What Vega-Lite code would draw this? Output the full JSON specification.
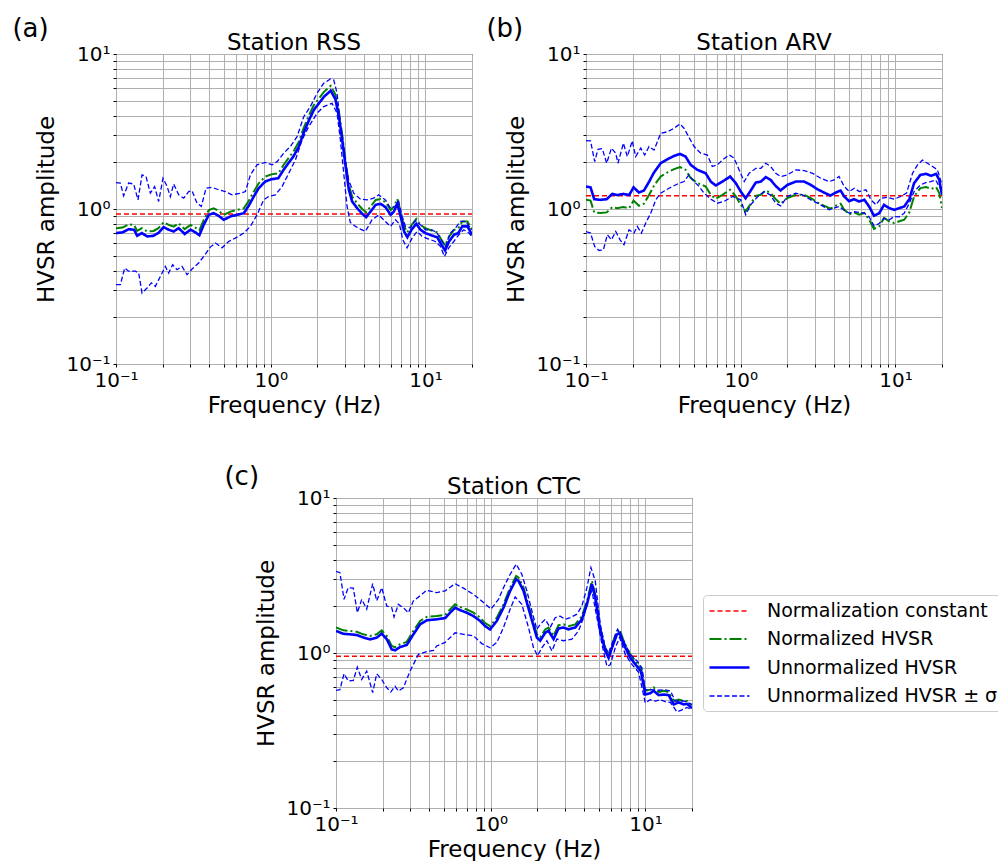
{
"$schema": "https://vega.github.io/schema/vega-lite/v6.json",
"padding": {"left": 12, "top": 15, "right": 0, "bottom": 0},
"config": {
  "font": "DejaVu Sans",
  "view": {"stroke": "#000000", "strokeWidth": 1},
  "axis": {"labelFont": "DejaVu Sans", "labelFontSize": 20, "labelColor": "#000000", "titleFont": "DejaVu Sans", "titleFontSize": 23, "titleFontWeight": "normal", "titleColor": "#000000", "gridColor": "#b0b0b0", "gridWidth": 1, "gridOpacity": 1, "domain": false, "tickColor": "#000000", "tickSize": 3, "labelOverlap": false, "labelFlush": false, "labelBound": false},
  "axisX": {"labelPadding": 3, "titlePadding": 4},
  "axisY": {"labelPadding": 3, "titlePadding": 7},
  "title": {"font": "DejaVu Sans", "fontSize": 23, "fontWeight": "normal", "color": "#000000", "offset": -11},
  "legend": {"orient": "none", "legendX": 367, "legendY": 97, "title": null, "symbolType": "M-1,0H3", "symbolSize": 400, "labelFontSize": 19, "labelFont": "DejaVu Sans", "labelColor": "#000000", "labelOffset": 36, "labelLimit": 400, "fillColor": "#ffffff", "strokeColor": "#cccccc", "cornerRadius": 4, "padding": 5, "rowPadding": 7},
  "line": {"clip": true}
},
"datasets": {
"A": [
{"series":"C","curve":"C","f":0.1,"v":0.93},{"series":"C","curve":"C","f":20,"v":0.93},
{"series":"N","curve":"N","f":0.1,"v":0.752},{"series":"N","curve":"N","f":0.11,"v":0.759},{"series":"N","curve":"N","f":0.121,"v":0.797},{"series":"N","curve":"N","f":0.131,"v":0.789},{"series":"N","curve":"N","f":0.137,"v":0.722},{"series":"N","curve":"N","f":0.147,"v":0.753},{"series":"N","curve":"N","f":0.159,"v":0.715},{"series":"N","curve":"N","f":0.175,"v":0.722},{"series":"N","curve":"N","f":0.188,"v":0.753},{"series":"N","curve":"N","f":0.203,"v":0.821},{"series":"N","curve":"N","f":0.219,"v":0.79},{"series":"N","curve":"N","f":0.236,"v":0.77},{"series":"N","curve":"N","f":0.254,"v":0.809},{"series":"N","curve":"N","f":0.278,"v":0.742},{"series":"N","curve":"N","f":0.303,"v":0.79},{"series":"N","curve":"N","f":0.326,"v":0.759},{"series":"N","curve":"N","f":0.346,"v":0.729},{"series":"N","curve":"N","f":0.369,"v":0.85},{"series":"N","curve":"N","f":0.398,"v":0.986},{"series":"N","curve":"N","f":0.428,"v":1.01},{"series":"N","curve":"N","f":0.461,"v":0.972},{"series":"N","curve":"N","f":0.497,"v":0.916},{"series":"N","curve":"N","f":0.549,"v":0.962},{"series":"N","curve":"N","f":0.605,"v":0.986},{"series":"N","curve":"N","f":0.67,"v":1.01},{"series":"N","curve":"N","f":0.72,"v":1.127},{"series":"N","curve":"N","f":0.777,"v":1.294},{"series":"N","curve":"N","f":0.836,"v":1.464},{"series":"N","curve":"N","f":0.922,"v":1.618},{"series":"N","curve":"N","f":1.01,"v":1.673},{"series":"N","curve":"N","f":1.12,"v":1.699},{"series":"N","curve":"N","f":1.21,"v":1.922},{"series":"N","curve":"N","f":1.3,"v":2.122},{"series":"N","curve":"N","f":1.4,"v":2.341},{"series":"N","curve":"N","f":1.52,"v":2.72},{"series":"N","curve":"N","f":1.63,"v":3.311},{"series":"N","curve":"N","f":1.77,"v":4.037},{"series":"N","curve":"N","f":1.9,"v":4.682},{"series":"N","curve":"N","f":2.05,"v":5.171},{"series":"N","curve":"N","f":2.21,"v":5.7},{"series":"N","curve":"N","f":2.44,"v":6.24},{"series":"N","curve":"N","f":2.62,"v":5.48},{"series":"N","curve":"N","f":2.76,"v":4.236},{"series":"N","curve":"N","f":2.9,"v":2.999},{"series":"N","curve":"N","f":3.05,"v":2.021},{"series":"N","curve":"N","f":3.2,"v":1.429},{"series":"N","curve":"N","f":3.36,"v":1.202},{"series":"N","curve":"N","f":3.62,"v":1.088},{"series":"N","curve":"N","f":3.9,"v":1.001},{"series":"N","curve":"N","f":4.14,"v":0.952},{"series":"N","curve":"N","f":4.42,"v":1.035},{"series":"N","curve":"N","f":4.77,"v":1.144},{"series":"N","curve":"N","f":5.13,"v":1.161},{"series":"N","curve":"N","f":5.52,"v":1.105},{"series":"N","curve":"N","f":5.96,"v":0.986},{"series":"N","curve":"N","f":6.26,"v":1.035},{"series":"N","curve":"N","f":6.58,"v":1.161},{"series":"N","curve":"N","f":6.92,"v":0.962},{"series":"N","curve":"N","f":7.28,"v":0.77},{"series":"N","curve":"N","f":7.64,"v":0.707},{"series":"N","curve":"N","f":8.13,"v":0.789},{"series":"N","curve":"N","f":8.73,"v":0.863},{"series":"N","curve":"N","f":9.3,"v":0.789},{"series":"N","curve":"N","f":10,"v":0.751},{"series":"N","curve":"N","f":11.1,"v":0.722},{"series":"N","curve":"N","f":11.9,"v":0.707},{"series":"N","curve":"N","f":12.7,"v":0.632},{"series":"N","curve":"N","f":13.4,"v":0.581},{"series":"N","curve":"N","f":14.2,"v":0.663},{"series":"N","curve":"N","f":15.3,"v":0.733},{"series":"N","curve":"N","f":16.3,"v":0.751},{"series":"N","curve":"N","f":17.3,"v":0.83},{"series":"N","curve":"N","f":18.7,"v":0.83},{"series":"N","curve":"N","f":20,"v":0.733},
{"series":"U","curve":"U","f":0.1,"v":0.70},{"series":"U","curve":"U","f":0.11,"v":0.706},{"series":"U","curve":"U","f":0.121,"v":0.741},{"series":"U","curve":"U","f":0.131,"v":0.734},{"series":"U","curve":"U","f":0.137,"v":0.672},{"series":"U","curve":"U","f":0.147,"v":0.70},{"series":"U","curve":"U","f":0.159,"v":0.665},{"series":"U","curve":"U","f":0.175,"v":0.672},{"series":"U","curve":"U","f":0.188,"v":0.70},{"series":"U","curve":"U","f":0.203,"v":0.764},{"series":"U","curve":"U","f":0.219,"v":0.735},{"series":"U","curve":"U","f":0.236,"v":0.716},{"series":"U","curve":"U","f":0.254,"v":0.753},{"series":"U","curve":"U","f":0.278,"v":0.69},{"series":"U","curve":"U","f":0.303,"v":0.735},{"series":"U","curve":"U","f":0.326,"v":0.706},{"series":"U","curve":"U","f":0.346,"v":0.678},{"series":"U","curve":"U","f":0.369,"v":0.791},{"series":"U","curve":"U","f":0.398,"v":0.917},{"series":"U","curve":"U","f":0.428,"v":0.94},{"series":"U","curve":"U","f":0.461,"v":0.904},{"series":"U","curve":"U","f":0.497,"v":0.852},{"series":"U","curve":"U","f":0.549,"v":0.895},{"series":"U","curve":"U","f":0.605,"v":0.917},{"series":"U","curve":"U","f":0.67,"v":0.94},{"series":"U","curve":"U","f":0.72,"v":1.048},{"series":"U","curve":"U","f":0.777,"v":1.204},{"series":"U","curve":"U","f":0.836,"v":1.362},{"series":"U","curve":"U","f":0.922,"v":1.505},{"series":"U","curve":"U","f":1.01,"v":1.556},{"series":"U","curve":"U","f":1.12,"v":1.58},{"series":"U","curve":"U","f":1.21,"v":1.788},{"series":"U","curve":"U","f":1.3,"v":1.974},{"series":"U","curve":"U","f":1.4,"v":2.178},{"series":"U","curve":"U","f":1.52,"v":2.53},{"series":"U","curve":"U","f":1.63,"v":3.08},{"series":"U","curve":"U","f":1.77,"v":3.755},{"series":"U","curve":"U","f":1.9,"v":4.355},{"series":"U","curve":"U","f":2.05,"v":4.81},{"series":"U","curve":"U","f":2.21,"v":5.3},{"series":"U","curve":"U","f":2.44,"v":5.8},{"series":"U","curve":"U","f":2.62,"v":5.1},{"series":"U","curve":"U","f":2.76,"v":3.94},{"series":"U","curve":"U","f":2.9,"v":2.79},{"series":"U","curve":"U","f":3.05,"v":1.88},{"series":"U","curve":"U","f":3.2,"v":1.329},{"series":"U","curve":"U","f":3.36,"v":1.118},{"series":"U","curve":"U","f":3.62,"v":1.012},{"series":"U","curve":"U","f":3.9,"v":0.931},{"series":"U","curve":"U","f":4.14,"v":0.886},{"series":"U","curve":"U","f":4.42,"v":0.963},{"series":"U","curve":"U","f":4.77,"v":1.064},{"series":"U","curve":"U","f":5.13,"v":1.08},{"series":"U","curve":"U","f":5.52,"v":1.028},{"series":"U","curve":"U","f":5.96,"v":0.917},{"series":"U","curve":"U","f":6.26,"v":0.963},{"series":"U","curve":"U","f":6.58,"v":1.08},{"series":"U","curve":"U","f":6.92,"v":0.895},{"series":"U","curve":"U","f":7.28,"v":0.716},{"series":"U","curve":"U","f":7.64,"v":0.658},{"series":"U","curve":"U","f":8.13,"v":0.734},{"series":"U","curve":"U","f":8.73,"v":0.803},{"series":"U","curve":"U","f":9.3,"v":0.734},{"series":"U","curve":"U","f":10,"v":0.699},{"series":"U","curve":"U","f":11.1,"v":0.672},{"series":"U","curve":"U","f":11.9,"v":0.658},{"series":"U","curve":"U","f":12.7,"v":0.588},{"series":"U","curve":"U","f":13.4,"v":0.54},{"series":"U","curve":"U","f":14.2,"v":0.617},{"series":"U","curve":"U","f":15.3,"v":0.682},{"series":"U","curve":"U","f":16.3,"v":0.699},{"series":"U","curve":"U","f":17.3,"v":0.772},{"series":"U","curve":"U","f":18.7,"v":0.772},{"series":"U","curve":"U","f":20,"v":0.682},
{"series":"S","curve":"up","f":0.1,"v":1.48},{"series":"S","curve":"up","f":0.1067,"v":1.47},{"series":"S","curve":"up","f":0.112,"v":1.216},{"series":"S","curve":"up","f":0.1207,"v":1.47},{"series":"S","curve":"up","f":0.13,"v":1.45},{"series":"S","curve":"up","f":0.1388,"v":1.146},{"series":"S","curve":"up","f":0.1473,"v":1.66},{"series":"S","curve":"up","f":0.1563,"v":1.62},{"series":"S","curve":"up","f":0.1667,"v":1.265},{"series":"S","curve":"up","f":0.1778,"v":1.395},{"series":"S","curve":"up","f":0.1887,"v":1.118},{"series":"S","curve":"up","f":0.2013,"v":1.58},{"series":"S","curve":"up","f":0.2137,"v":1.4},{"series":"S","curve":"up","f":0.2245,"v":1.2},{"series":"S","curve":"up","f":0.236,"v":1.45},{"series":"S","curve":"up","f":0.2542,"v":1.234},{"series":"S","curve":"up","f":0.2738,"v":1.175},{"series":"S","curve":"up","f":0.295,"v":1.296},{"series":"S","curve":"up","f":0.31,"v":1.31},{"series":"S","curve":"up","f":0.334,"v":1.09},{"series":"S","curve":"up","f":0.356,"v":1.038},{"series":"S","curve":"up","f":0.382,"v":1.363},{"series":"S","curve":"up","f":0.4175,"v":1.38},{"series":"S","curve":"up","f":0.461,"v":1.33},{"series":"S","curve":"up","f":0.509,"v":1.296},{"series":"S","curve":"up","f":0.562,"v":1.234},{"series":"S","curve":"up","f":0.637,"v":1.265},{"series":"S","curve":"up","f":0.686,"v":1.296},{"series":"S","curve":"up","f":0.739,"v":1.66},{"series":"S","curve":"up","f":0.816,"v":1.926},{"series":"S","curve":"up","f":0.924,"v":1.999},{"series":"S","curve":"up","f":1.02,"v":1.926},{"series":"S","curve":"up","f":1.099,"v":2.02},{"series":"S","curve":"up","f":1.213,"v":2.29},{"series":"S","curve":"up","f":1.34,"v":2.53},{"series":"S","curve":"up","f":1.48,"v":2.93},{"series":"S","curve":"up","f":1.635,"v":3.94},{"series":"S","curve":"up","f":1.805,"v":4.58},{"series":"S","curve":"up","f":1.993,"v":5.58},{"series":"S","curve":"up","f":2.2,"v":6.47},{"series":"S","curve":"up","f":2.43,"v":6.9},{"series":"S","curve":"up","f":2.555,"v":6.8},{"series":"S","curve":"up","f":2.685,"v":5.58},{"series":"S","curve":"up","f":2.82,"v":3.4},{"series":"S","curve":"up","f":2.965,"v":2.29},{"series":"S","curve":"up","f":3.19,"v":1.54},{"series":"S","curve":"up","f":3.44,"v":1.265},{"series":"S","curve":"up","f":3.8,"v":1.157},{"series":"S","curve":"up","f":4.2,"v":1.146},{"series":"S","curve":"up","f":4.63,"v":1.175},{"series":"S","curve":"up","f":4.99,"v":1.234},{"series":"S","curve":"up","f":5.51,"v":1.146},{"series":"S","curve":"up","f":5.94,"v":1.013},{"series":"S","curve":"up","f":6.34,"v":1.038},{"series":"S","curve":"up","f":6.72,"v":1.118},{"series":"S","curve":"up","f":7.07,"v":0.895},{"series":"S","curve":"up","f":7.43,"v":0.772},{"series":"S","curve":"up","f":8.0,"v":0.753},{"series":"S","curve":"up","f":8.62,"v":0.843},{"series":"S","curve":"up","f":9.28,"v":0.79},{"series":"S","curve":"up","f":10,"v":0.734},{"series":"S","curve":"up","f":11.04,"v":0.734},{"series":"S","curve":"up","f":11.9,"v":0.699},{"series":"S","curve":"up","f":12.82,"v":0.617},{"series":"S","curve":"up","f":13.47,"v":0.574},{"series":"S","curve":"up","f":14.5,"v":0.699},{"series":"S","curve":"up","f":15.63,"v":0.753},{"series":"S","curve":"up","f":16.84,"v":0.831},{"series":"S","curve":"up","f":18.14,"v":0.831},{"series":"S","curve":"up","f":20,"v":0.734},
{"series":"S","curve":"lo","f":0.1,"v":0.325},{"series":"S","curve":"lo","f":0.1067,"v":0.325},{"series":"S","curve":"lo","f":0.1138,"v":0.4155},{"series":"S","curve":"lo","f":0.1207,"v":0.397},{"series":"S","curve":"lo","f":0.1334,"v":0.397},{"series":"S","curve":"lo","f":0.1402,"v":0.386},{"series":"S","curve":"lo","f":0.1473,"v":0.287},{"series":"S","curve":"lo","f":0.1587,"v":0.309},{"series":"S","curve":"lo","f":0.1692,"v":0.334},{"series":"S","curve":"lo","f":0.1796,"v":0.317},{"series":"S","curve":"lo","f":0.1934,"v":0.367},{"series":"S","curve":"lo","f":0.2084,"v":0.426},{"series":"S","curve":"lo","f":0.219,"v":0.386},{"series":"S","curve":"lo","f":0.2325,"v":0.437},{"series":"S","curve":"lo","f":0.248,"v":0.406},{"series":"S","curve":"lo","f":0.2672,"v":0.426},{"series":"S","curve":"lo","f":0.2878,"v":0.377},{"series":"S","curve":"lo","f":0.31,"v":0.41},{"series":"S","curve":"lo","f":0.342,"v":0.448},{"series":"S","curve":"lo","f":0.369,"v":0.494},{"series":"S","curve":"lo","f":0.407,"v":0.568},{"series":"S","curve":"lo","f":0.439,"v":0.603},{"series":"S","curve":"lo","f":0.4845,"v":0.562},{"series":"S","curve":"lo","f":0.535,"v":0.617},{"series":"S","curve":"lo","f":0.606,"v":0.658},{"series":"S","curve":"lo","f":0.669,"v":0.699},{"series":"S","curve":"lo","f":0.739,"v":0.772},{"series":"S","curve":"lo","f":0.816,"v":0.917},{"series":"S","curve":"lo","f":0.901,"v":1.146},{"series":"S","curve":"lo","f":0.971,"v":1.204},{"series":"S","curve":"lo","f":1.072,"v":1.234},{"series":"S","curve":"lo","f":1.184,"v":1.395},{"series":"S","curve":"lo","f":1.307,"v":1.70},{"series":"S","curve":"lo","f":1.444,"v":2.07},{"series":"S","curve":"lo","f":1.595,"v":2.79},{"series":"S","curve":"lo","f":1.761,"v":3.4},{"series":"S","curve":"lo","f":1.993,"v":4.146},{"series":"S","curve":"lo","f":2.2,"v":4.58},{"series":"S","curve":"lo","f":2.49,"v":4.81},{"series":"S","curve":"lo","f":2.685,"v":4.146},{"series":"S","curve":"lo","f":2.82,"v":2.79},{"series":"S","curve":"lo","f":2.965,"v":1.70},{"series":"S","curve":"lo","f":3.115,"v":1.038},{"series":"S","curve":"lo","f":3.27,"v":0.819},{"series":"S","curve":"lo","f":3.53,"v":0.772},{"series":"S","curve":"lo","f":3.8,"v":0.742},{"series":"S","curve":"lo","f":4.09,"v":0.716},{"series":"S","curve":"lo","f":4.52,"v":0.852},{"series":"S","curve":"lo","f":4.99,"v":0.917},{"series":"S","curve":"lo","f":5.51,"v":0.831},{"series":"S","curve":"lo","f":5.94,"v":0.772},{"series":"S","curve":"lo","f":6.4,"v":0.852},{"series":"S","curve":"lo","f":6.79,"v":0.80},{"series":"S","curve":"lo","f":7.14,"v":0.633},{"series":"S","curve":"lo","f":7.61,"v":0.562},{"series":"S","curve":"lo","f":8.2,"v":0.649},{"series":"S","curve":"lo","f":8.83,"v":0.716},{"series":"S","curve":"lo","f":9.51,"v":0.666},{"series":"S","curve":"lo","f":10.5,"v":0.64},{"series":"S","curve":"lo","f":11.6,"v":0.617},{"series":"S","curve":"lo","f":12.5,"v":0.574},{"series":"S","curve":"lo","f":13.27,"v":0.494},{"series":"S","curve":"lo","f":14.16,"v":0.562},{"series":"S","curve":"lo","f":15.25,"v":0.617},{"series":"S","curve":"lo","f":16.43,"v":0.682},{"series":"S","curve":"lo","f":17.69,"v":0.734},{"series":"S","curve":"lo","f":19.06,"v":0.70},{"series":"S","curve":"lo","f":20,"v":0.666}
],
"B": [
{"series":"C","curve":"C","f":0.1,"v":1.216},{"series":"C","curve":"C","f":20,"v":1.216},
{"series":"N","curve":"N","f":0.1,"v":1.148},{"series":"N","curve":"N","f":0.107,"v":1.134},{"series":"N","curve":"N","f":0.113,"v":0.951},{"series":"N","curve":"N","f":0.124,"v":0.942},{"series":"N","curve":"N","f":0.136,"v":0.951},{"series":"N","curve":"N","f":0.148,"v":1.029},{"series":"N","curve":"N","f":0.159,"v":1.011},{"series":"N","curve":"N","f":0.174,"v":1.029},{"series":"N","curve":"N","f":0.19,"v":1.011},{"series":"N","curve":"N","f":0.203,"v":1.134},{"series":"N","curve":"N","f":0.22,"v":1.05},{"series":"N","curve":"N","f":0.237,"v":1.082},{"series":"N","curve":"N","f":0.256,"v":1.235},{"series":"N","curve":"N","f":0.275,"v":1.413},{"series":"N","curve":"N","f":0.304,"v":1.623},{"series":"N","curve":"N","f":0.336,"v":1.722},{"series":"N","curve":"N","f":0.371,"v":1.808},{"series":"N","curve":"N","f":0.405,"v":1.864},{"series":"N","curve":"N","f":0.44,"v":1.792},{"series":"N","curve":"N","f":0.475,"v":1.583},{"series":"N","curve":"N","f":0.525,"v":1.47},{"series":"N","curve":"N","f":0.594,"v":1.397},{"series":"N","curve":"N","f":0.64,"v":1.235},{"series":"N","curve":"N","f":0.69,"v":1.165},{"series":"N","curve":"N","f":0.762,"v":1.235},{"series":"N","curve":"N","f":0.855,"v":1.332},{"series":"N","curve":"N","f":0.93,"v":1.207},{"series":"N","curve":"N","f":1.0,"v":1.065},{"series":"N","curve":"N","f":1.075,"v":0.965},{"series":"N","curve":"N","f":1.15,"v":1.065},{"series":"N","curve":"N","f":1.25,"v":1.217},{"series":"N","curve":"N","f":1.35,"v":1.235},{"series":"N","curve":"N","f":1.45,"v":1.318},{"series":"N","curve":"N","f":1.56,"v":1.268},{"series":"N","curve":"N","f":1.68,"v":1.159},{"series":"N","curve":"N","f":1.81,"v":1.082},{"series":"N","curve":"N","f":2.0,"v":1.175},{"series":"N","curve":"N","f":2.27,"v":1.235},{"series":"N","curve":"N","f":2.57,"v":1.235},{"series":"N","curve":"N","f":2.84,"v":1.175},{"series":"N","curve":"N","f":3.13,"v":1.103},{"series":"N","curve":"N","f":3.45,"v":1.05},{"series":"N","curve":"N","f":3.8,"v":1.004},{"series":"N","curve":"N","f":4.12,"v":1.05},{"series":"N","curve":"N","f":4.42,"v":1.082},{"series":"N","curve":"N","f":4.67,"v":0.99},{"series":"N","curve":"N","f":5.02,"v":0.923},{"series":"N","curve":"N","f":5.4,"v":0.951},{"series":"N","curve":"N","f":5.82,"v":0.919},{"series":"N","curve":"N","f":6.3,"v":0.942},{"series":"N","curve":"N","f":6.76,"v":0.853},{"series":"N","curve":"N","f":7.27,"v":0.743},{"series":"N","curve":"N","f":7.86,"v":0.773},{"series":"N","curve":"N","f":8.44,"v":0.875},{"series":"N","curve":"N","f":9.12,"v":0.833},{"series":"N","curve":"N","f":9.83,"v":0.812},{"series":"N","curve":"N","f":10.6,"v":0.833},{"series":"N","curve":"N","f":11.4,"v":0.853},{"series":"N","curve":"N","f":12.3,"v":0.951},{"series":"N","curve":"N","f":13.2,"v":1.207},{"series":"N","curve":"N","f":14.5,"v":1.365},{"series":"N","curve":"N","f":15.8,"v":1.385},{"series":"N","curve":"N","f":17.0,"v":1.346},{"series":"N","curve":"N","f":18.3,"v":1.385},{"series":"N","curve":"N","f":19.2,"v":1.268},{"series":"N","curve":"N","f":20,"v":1.014},
{"series":"U","curve":"U","f":0.1,"v":1.397},{"series":"U","curve":"U","f":0.107,"v":1.38},{"series":"U","curve":"U","f":0.113,"v":1.157},{"series":"U","curve":"U","f":0.124,"v":1.146},{"series":"U","curve":"U","f":0.136,"v":1.157},{"series":"U","curve":"U","f":0.148,"v":1.252},{"series":"U","curve":"U","f":0.159,"v":1.23},{"series":"U","curve":"U","f":0.174,"v":1.252},{"series":"U","curve":"U","f":0.19,"v":1.23},{"series":"U","curve":"U","f":0.203,"v":1.38},{"series":"U","curve":"U","f":0.22,"v":1.277},{"series":"U","curve":"U","f":0.237,"v":1.316},{"series":"U","curve":"U","f":0.256,"v":1.503},{"series":"U","curve":"U","f":0.275,"v":1.719},{"series":"U","curve":"U","f":0.304,"v":1.974},{"series":"U","curve":"U","f":0.336,"v":2.095},{"series":"U","curve":"U","f":0.371,"v":2.2},{"series":"U","curve":"U","f":0.405,"v":2.268},{"series":"U","curve":"U","f":0.44,"v":2.18},{"series":"U","curve":"U","f":0.475,"v":1.926},{"series":"U","curve":"U","f":0.525,"v":1.788},{"series":"U","curve":"U","f":0.594,"v":1.7},{"series":"U","curve":"U","f":0.64,"v":1.503},{"series":"U","curve":"U","f":0.69,"v":1.417},{"series":"U","curve":"U","f":0.762,"v":1.503},{"series":"U","curve":"U","f":0.855,"v":1.62},{"series":"U","curve":"U","f":0.93,"v":1.468},{"series":"U","curve":"U","f":1.0,"v":1.296},{"series":"U","curve":"U","f":1.075,"v":1.174},{"series":"U","curve":"U","f":1.15,"v":1.296},{"series":"U","curve":"U","f":1.25,"v":1.48},{"series":"U","curve":"U","f":1.35,"v":1.503},{"series":"U","curve":"U","f":1.45,"v":1.604},{"series":"U","curve":"U","f":1.56,"v":1.542},{"series":"U","curve":"U","f":1.68,"v":1.41},{"series":"U","curve":"U","f":1.81,"v":1.316},{"series":"U","curve":"U","f":2.0,"v":1.43},{"series":"U","curve":"U","f":2.27,"v":1.503},{"series":"U","curve":"U","f":2.57,"v":1.503},{"series":"U","curve":"U","f":2.84,"v":1.43},{"series":"U","curve":"U","f":3.13,"v":1.342},{"series":"U","curve":"U","f":3.45,"v":1.277},{"series":"U","curve":"U","f":3.8,"v":1.222},{"series":"U","curve":"U","f":4.12,"v":1.277},{"series":"U","curve":"U","f":4.42,"v":1.316},{"series":"U","curve":"U","f":4.67,"v":1.204},{"series":"U","curve":"U","f":5.02,"v":1.123},{"series":"U","curve":"U","f":5.4,"v":1.157},{"series":"U","curve":"U","f":5.82,"v":1.118},{"series":"U","curve":"U","f":6.3,"v":1.146},{"series":"U","curve":"U","f":6.76,"v":1.038},{"series":"U","curve":"U","f":7.27,"v":0.904},{"series":"U","curve":"U","f":7.86,"v":0.94},{"series":"U","curve":"U","f":8.44,"v":1.064},{"series":"U","curve":"U","f":9.12,"v":1.013},{"series":"U","curve":"U","f":9.83,"v":0.988},{"series":"U","curve":"U","f":10.6,"v":1.013},{"series":"U","curve":"U","f":11.4,"v":1.038},{"series":"U","curve":"U","f":12.3,"v":1.157},{"series":"U","curve":"U","f":13.2,"v":1.468},{"series":"U","curve":"U","f":14.5,"v":1.66},{"series":"U","curve":"U","f":15.8,"v":1.685},{"series":"U","curve":"U","f":17.0,"v":1.637},{"series":"U","curve":"U","f":18.3,"v":1.685},{"series":"U","curve":"U","f":19.2,"v":1.542},{"series":"U","curve":"U","f":20,"v":1.234},
{"series":"S","curve":"up","f":0.1,"v":2.764},{"series":"S","curve":"up","f":0.107,"v":2.75},{"series":"S","curve":"up","f":0.1138,"v":2.023},{"series":"S","curve":"up","f":0.1196,"v":2.43},{"series":"S","curve":"up","f":0.1275,"v":2.45},{"series":"S","curve":"up","f":0.136,"v":1.974},{"series":"S","curve":"up","f":0.146,"v":2.47},{"series":"S","curve":"up","f":0.1556,"v":2.29},{"series":"S","curve":"up","f":0.161,"v":1.974},{"series":"S","curve":"up","f":0.1744,"v":2.657},{"series":"S","curve":"up","f":0.185,"v":2.18},{"series":"S","curve":"up","f":0.199,"v":2.75},{"series":"S","curve":"up","f":0.2095,"v":2.18},{"series":"S","curve":"up","f":0.2258,"v":2.47},{"series":"S","curve":"up","f":0.2396,"v":2.23},{"series":"S","curve":"up","f":0.2556,"v":2.53},{"series":"S","curve":"up","f":0.2754,"v":2.4},{"series":"S","curve":"up","f":0.3041,"v":3.08},{"series":"S","curve":"up","f":0.336,"v":3.15},{"series":"S","curve":"up","f":0.371,"v":3.32},{"series":"S","curve":"up","f":0.405,"v":3.54},{"series":"S","curve":"up","f":0.43,"v":3.32},{"series":"S","curve":"up","f":0.463,"v":2.9},{"series":"S","curve":"up","f":0.4996,"v":2.53},{"series":"S","curve":"up","f":0.5514,"v":2.29},{"series":"S","curve":"up","f":0.609,"v":2.23},{"series":"S","curve":"up","f":0.655,"v":1.88},{"series":"S","curve":"up","f":0.7074,"v":1.93},{"series":"S","curve":"up","f":0.762,"v":2.07},{"series":"S","curve":"up","f":0.842,"v":2.23},{"series":"S","curve":"up","f":0.906,"v":2.13},{"series":"S","curve":"up","f":0.977,"v":1.788},{"series":"S","curve":"up","f":1.053,"v":1.503},{"series":"S","curve":"up","f":1.134,"v":1.7},{"series":"S","curve":"up","f":1.252,"v":1.83},{"series":"S","curve":"up","f":1.35,"v":1.83},{"series":"S","curve":"up","f":1.45,"v":1.974},{"series":"S","curve":"up","f":1.564,"v":1.88},{"series":"S","curve":"up","f":1.685,"v":1.7},{"series":"S","curve":"up","f":1.815,"v":1.62},{"series":"S","curve":"up","f":2.0,"v":1.66},{"series":"S","curve":"up","f":2.27,"v":1.788},{"series":"S","curve":"up","f":2.57,"v":1.77},{"series":"S","curve":"up","f":2.91,"v":1.7},{"series":"S","curve":"up","f":3.29,"v":1.58},{"series":"S","curve":"up","f":3.73,"v":1.503},{"series":"S","curve":"up","f":4.01,"v":1.54},{"series":"S","curve":"up","f":4.32,"v":1.62},{"series":"S","curve":"up","f":4.67,"v":1.397},{"series":"S","curve":"up","f":5.03,"v":1.296},{"series":"S","curve":"up","f":5.42,"v":1.362},{"series":"S","curve":"up","f":5.84,"v":1.296},{"series":"S","curve":"up","f":6.45,"v":1.33},{"series":"S","curve":"up","f":6.95,"v":1.146},{"series":"S","curve":"up","f":7.49,"v":1.064},{"series":"S","curve":"up","f":8.07,"v":1.174},{"series":"S","curve":"up","f":8.9,"v":1.19},{"series":"S","curve":"up","f":9.83,"v":1.157},{"series":"S","curve":"up","f":10.8,"v":1.204},{"series":"S","curve":"up","f":11.8,"v":1.265},{"series":"S","curve":"up","f":12.9,"v":1.7},{"series":"S","curve":"up","f":13.9,"v":1.926},{"series":"S","curve":"up","f":14.95,"v":2.07},{"series":"S","curve":"up","f":16.1,"v":1.974},{"series":"S","curve":"up","f":17.4,"v":1.88},{"series":"S","curve":"up","f":18.7,"v":1.788},{"series":"S","curve":"up","f":20,"v":1.43},
{"series":"S","curve":"lo","f":0.1,"v":0.716},{"series":"S","curve":"lo","f":0.107,"v":0.699},{"series":"S","curve":"lo","f":0.1138,"v":0.573},{"series":"S","curve":"lo","f":0.1213,"v":0.54},{"series":"S","curve":"lo","f":0.1295,"v":0.545},{"series":"S","curve":"lo","f":0.1374,"v":0.682},{"series":"S","curve":"lo","f":0.146,"v":0.633},{"series":"S","curve":"lo","f":0.1556,"v":0.716},{"series":"S","curve":"lo","f":0.166,"v":0.633},{"series":"S","curve":"lo","f":0.176,"v":0.588},{"series":"S","curve":"lo","f":0.1897,"v":0.734},{"series":"S","curve":"lo","f":0.2044,"v":0.699},{"series":"S","curve":"lo","f":0.2146,"v":0.772},{"series":"S","curve":"lo","f":0.228,"v":0.699},{"series":"S","curve":"lo","f":0.243,"v":0.81},{"series":"S","curve":"lo","f":0.262,"v":0.94},{"series":"S","curve":"lo","f":0.2826,"v":1.146},{"series":"S","curve":"lo","f":0.304,"v":1.265},{"series":"S","curve":"lo","f":0.344,"v":1.362},{"series":"S","curve":"lo","f":0.39,"v":1.45},{"series":"S","curve":"lo","f":0.43,"v":1.503},{"series":"S","curve":"lo","f":0.463,"v":1.66},{"series":"S","curve":"lo","f":0.4996,"v":1.503},{"series":"S","curve":"lo","f":0.5385,"v":1.397},{"series":"S","curve":"lo","f":0.58,"v":1.265},{"series":"S","curve":"lo","f":0.64,"v":1.157},{"series":"S","curve":"lo","f":0.7074,"v":1.09},{"series":"S","curve":"lo","f":0.781,"v":1.12},{"series":"S","curve":"lo","f":0.885,"v":1.204},{"series":"S","curve":"lo","f":1.0,"v":1.146},{"series":"S","curve":"lo","f":1.077,"v":0.917},{"series":"S","curve":"lo","f":1.16,"v":1.064},{"series":"S","curve":"lo","f":1.29,"v":1.204},{"series":"S","curve":"lo","f":1.42,"v":1.296},{"series":"S","curve":"lo","f":1.55,"v":1.234},{"series":"S","curve":"lo","f":1.685,"v":1.09},{"series":"S","curve":"lo","f":1.815,"v":1.048},{"series":"S","curve":"lo","f":2.0,"v":1.204},{"series":"S","curve":"lo","f":2.27,"v":1.265},{"series":"S","curve":"lo","f":2.51,"v":1.234},{"series":"S","curve":"lo","f":2.84,"v":1.146},{"series":"S","curve":"lo","f":3.29,"v":1.064},{"series":"S","curve":"lo","f":3.73,"v":0.988},{"series":"S","curve":"lo","f":4.01,"v":1.013},{"series":"S","curve":"lo","f":4.32,"v":1.038},{"series":"S","curve":"lo","f":4.67,"v":0.978},{"series":"S","curve":"lo","f":5.03,"v":0.94},{"series":"S","curve":"lo","f":5.42,"v":0.96},{"series":"S","curve":"lo","f":5.84,"v":0.95},{"series":"S","curve":"lo","f":6.3,"v":0.94},{"series":"S","curve":"lo","f":6.78,"v":0.886},{"series":"S","curve":"lo","f":7.3,"v":0.772},{"series":"S","curve":"lo","f":7.87,"v":0.81},{"series":"S","curve":"lo","f":8.47,"v":0.873},{"series":"S","curve":"lo","f":9.14,"v":0.852},{"series":"S","curve":"lo","f":9.83,"v":0.895},{"series":"S","curve":"lo","f":10.6,"v":0.89},{"series":"S","curve":"lo","f":11.4,"v":0.94},{"series":"S","curve":"lo","f":12.3,"v":1.09},{"series":"S","curve":"lo","f":13.2,"v":1.296},{"series":"S","curve":"lo","f":14.5,"v":1.43},{"series":"S","curve":"lo","f":15.7,"v":1.48},{"series":"S","curve":"lo","f":16.9,"v":1.503},{"series":"S","curve":"lo","f":18.2,"v":1.54},{"series":"S","curve":"lo","f":20,"v":1.296}
],
"C": [
{"series":"C","curve":"C","f":0.1,"v":0.952},{"series":"C","curve":"C","f":20,"v":0.952},
{"series":"N","curve":"N","f":0.1,"v":1.46},{"series":"N","curve":"N","f":0.1115,"v":1.4},{"series":"N","curve":"N","f":0.1232,"v":1.39},{"series":"N","curve":"N","f":0.136,"v":1.37},{"series":"N","curve":"N","f":0.15,"v":1.32},{"series":"N","curve":"N","f":0.166,"v":1.29},{"series":"N","curve":"N","f":0.1833,"v":1.32},{"series":"N","curve":"N","f":0.1974,"v":1.4},{"series":"N","curve":"N","f":0.2128,"v":1.29},{"series":"N","curve":"N","f":0.2291,"v":1.11},{"series":"N","curve":"N","f":0.2408,"v":1.09},{"series":"N","curve":"N","f":0.2595,"v":1.14},{"series":"N","curve":"N","f":0.2866,"v":1.18},{"series":"N","curve":"N","f":0.3165,"v":1.39},{"series":"N","curve":"N","f":0.3496,"v":1.61},{"series":"N","curve":"N","f":0.386,"v":1.71},{"series":"N","curve":"N","f":0.4479,"v":1.73},{"series":"N","curve":"N","f":0.5072,"v":1.76},{"series":"N","curve":"N","f":0.5464,"v":1.91},{"series":"N","curve":"N","f":0.5886,"v":2.06},{"series":"N","curve":"N","f":0.6341,"v":1.98},{"series":"N","curve":"N","f":0.7004,"v":1.91},{"series":"N","curve":"N","f":0.7738,"v":1.82},{"series":"N","curve":"N","f":0.8546,"v":1.69},{"series":"N","curve":"N","f":0.9204,"v":1.56},{"series":"N","curve":"N","f":0.9915,"v":1.49},{"series":"N","curve":"N","f":1.095,"v":1.69},{"series":"N","curve":"N","f":1.2095,"v":2.06},{"series":"N","curve":"N","f":1.336,"v":2.65},{"series":"N","curve":"N","f":1.461,"v":3.14},{"series":"N","curve":"N","f":1.512,"v":3.07},{"series":"N","curve":"N","f":1.629,"v":2.65},{"series":"N","curve":"N","f":1.799,"v":1.87},{"series":"N","curve":"N","f":1.987,"v":1.32},{"series":"N","curve":"N","f":2.088,"v":1.26},{"series":"N","curve":"N","f":2.25,"v":1.42},{"series":"N","curve":"N","f":2.365,"v":1.46},{"series":"N","curve":"N","f":2.547,"v":1.29},{"series":"N","curve":"N","f":2.744,"v":1.51},{"series":"N","curve":"N","f":2.956,"v":1.53},{"series":"N","curve":"N","f":3.185,"v":1.49},{"series":"N","curve":"N","f":3.518,"v":1.53},{"series":"N","curve":"N","f":3.885,"v":1.73},{"series":"N","curve":"N","f":4.187,"v":2.16},{"series":"N","curve":"N","f":4.51,"v":2.92},{"series":"N","curve":"N","f":4.74,"v":2.39},{"series":"N","curve":"N","f":5.105,"v":1.46},{"series":"N","curve":"N","f":5.5,"v":1.08},{"series":"N","curve":"N","f":5.781,"v":0.98},{"series":"N","curve":"N","f":6.076,"v":1.13},{"series":"N","curve":"N","f":6.545,"v":1.39},{"series":"N","curve":"N","f":6.81,"v":1.42},{"series":"N","curve":"N","f":7.228,"v":1.2},{"series":"N","curve":"N","f":7.98,"v":0.98},{"series":"N","curve":"N","f":8.815,"v":0.86},{"series":"N","curve":"N","f":9.357,"v":0.8},{"series":"N","curve":"N","f":9.98,"v":0.57},{"series":"N","curve":"N","f":10.75,"v":0.58},{"series":"N","curve":"N","f":11.3,"v":0.6},{"series":"N","curve":"N","f":12.17,"v":0.56},{"series":"N","curve":"N","f":13.12,"v":0.57},{"series":"N","curve":"N","f":14.13,"v":0.56},{"series":"N","curve":"N","f":15.22,"v":0.49},{"series":"N","curve":"N","f":16.4,"v":0.5},{"series":"N","curve":"N","f":17.67,"v":0.49},{"series":"N","curve":"N","f":18.57,"v":0.49},{"series":"N","curve":"N","f":20,"v":0.46},
{"series":"U","curve":"U","f":0.1,"v":1.39},{"series":"U","curve":"U","f":0.1115,"v":1.33},{"series":"U","curve":"U","f":0.1232,"v":1.32},{"series":"U","curve":"U","f":0.136,"v":1.307},{"series":"U","curve":"U","f":0.15,"v":1.26},{"series":"U","curve":"U","f":0.166,"v":1.226},{"series":"U","curve":"U","f":0.1833,"v":1.256},{"series":"U","curve":"U","f":0.1974,"v":1.334},{"series":"U","curve":"U","f":0.2128,"v":1.23},{"series":"U","curve":"U","f":0.2291,"v":1.056},{"series":"U","curve":"U","f":0.2408,"v":1.04},{"series":"U","curve":"U","f":0.2595,"v":1.093},{"series":"U","curve":"U","f":0.2866,"v":1.126},{"series":"U","curve":"U","f":0.3165,"v":1.32},{"series":"U","curve":"U","f":0.3496,"v":1.532},{"series":"U","curve":"U","f":0.386,"v":1.626},{"series":"U","curve":"U","f":0.4479,"v":1.65},{"series":"U","curve":"U","f":0.5072,"v":1.68},{"series":"U","curve":"U","f":0.5464,"v":1.82},{"series":"U","curve":"U","f":0.5886,"v":1.96},{"series":"U","curve":"U","f":0.6341,"v":1.89},{"series":"U","curve":"U","f":0.7004,"v":1.82},{"series":"U","curve":"U","f":0.7738,"v":1.73},{"series":"U","curve":"U","f":0.8546,"v":1.61},{"series":"U","curve":"U","f":0.9204,"v":1.49},{"series":"U","curve":"U","f":0.9915,"v":1.42},{"series":"U","curve":"U","f":1.095,"v":1.61},{"series":"U","curve":"U","f":1.2095,"v":1.96},{"series":"U","curve":"U","f":1.336,"v":2.52},{"series":"U","curve":"U","f":1.461,"v":2.99},{"series":"U","curve":"U","f":1.512,"v":2.92},{"series":"U","curve":"U","f":1.629,"v":2.52},{"series":"U","curve":"U","f":1.799,"v":1.78},{"series":"U","curve":"U","f":1.987,"v":1.26},{"series":"U","curve":"U","f":2.088,"v":1.2},{"series":"U","curve":"U","f":2.25,"v":1.35},{"series":"U","curve":"U","f":2.365,"v":1.39},{"series":"U","curve":"U","f":2.547,"v":1.23},{"series":"U","curve":"U","f":2.744,"v":1.44},{"series":"U","curve":"U","f":2.956,"v":1.46},{"series":"U","curve":"U","f":3.185,"v":1.42},{"series":"U","curve":"U","f":3.518,"v":1.46},{"series":"U","curve":"U","f":3.885,"v":1.65},{"series":"U","curve":"U","f":4.187,"v":2.06},{"series":"U","curve":"U","f":4.51,"v":2.78},{"series":"U","curve":"U","f":4.74,"v":2.28},{"series":"U","curve":"U","f":5.105,"v":1.39},{"series":"U","curve":"U","f":5.5,"v":1.03},{"series":"U","curve":"U","f":5.781,"v":0.93},{"series":"U","curve":"U","f":6.076,"v":1.08},{"series":"U","curve":"U","f":6.545,"v":1.32},{"series":"U","curve":"U","f":6.81,"v":1.35},{"series":"U","curve":"U","f":7.228,"v":1.14},{"series":"U","curve":"U","f":7.98,"v":0.93},{"series":"U","curve":"U","f":8.815,"v":0.82},{"series":"U","curve":"U","f":9.357,"v":0.76},{"series":"U","curve":"U","f":9.98,"v":0.54},{"series":"U","curve":"U","f":10.75,"v":0.55},{"series":"U","curve":"U","f":11.3,"v":0.57},{"series":"U","curve":"U","f":12.17,"v":0.535},{"series":"U","curve":"U","f":13.12,"v":0.54},{"series":"U","curve":"U","f":14.13,"v":0.535},{"series":"U","curve":"U","f":15.22,"v":0.466},{"series":"U","curve":"U","f":16.4,"v":0.48},{"series":"U","curve":"U","f":17.67,"v":0.466},{"series":"U","curve":"U","f":18.57,"v":0.47},{"series":"U","curve":"U","f":20,"v":0.44},
{"series":"S","curve":"up","f":0.1,"v":3.36},{"series":"S","curve":"up","f":0.106,"v":3.3},{"series":"S","curve":"up","f":0.1127,"v":2.22},{"series":"S","curve":"up","f":0.12,"v":2.64},{"series":"S","curve":"up","f":0.1294,"v":2.62},{"series":"S","curve":"up","f":0.1374,"v":1.82},{"series":"S","curve":"up","f":0.1466,"v":2.22},{"series":"S","curve":"up","f":0.158,"v":1.92},{"series":"S","curve":"up","f":0.1726,"v":2.8},{"series":"S","curve":"up","f":0.1833,"v":2.17},{"series":"S","curve":"up","f":0.1974,"v":2.64},{"series":"S","curve":"up","f":0.2128,"v":2.01},{"series":"S","curve":"up","f":0.2291,"v":1.96},{"series":"S","curve":"up","f":0.2372,"v":1.71},{"series":"S","curve":"up","f":0.2531,"v":2.06},{"series":"S","curve":"up","f":0.2726,"v":1.96},{"series":"S","curve":"up","f":0.2938,"v":1.82},{"series":"S","curve":"up","f":0.3165,"v":2.17},{"series":"S","curve":"up","f":0.3496,"v":2.34},{"series":"S","curve":"up","f":0.386,"v":2.54},{"series":"S","curve":"up","f":0.4479,"v":2.45},{"series":"S","curve":"up","f":0.5072,"v":2.52},{"series":"S","curve":"up","f":0.5886,"v":2.8},{"series":"S","curve":"up","f":0.6664,"v":2.62},{"series":"S","curve":"up","f":0.7738,"v":2.39},{"series":"S","curve":"up","f":0.898,"v":2.12},{"series":"S","curve":"up","f":1.0064,"v":1.92},{"series":"S","curve":"up","f":1.1225,"v":2.22},{"series":"S","curve":"up","f":1.2095,"v":2.64},{"series":"S","curve":"up","f":1.336,"v":3.22},{"series":"S","curve":"up","f":1.461,"v":3.74},{"series":"S","curve":"up","f":1.589,"v":3.22},{"series":"S","curve":"up","f":1.712,"v":2.52},{"series":"S","curve":"up","f":1.845,"v":1.87},{"series":"S","curve":"up","f":1.987,"v":1.42},{"series":"S","curve":"up","f":2.088,"v":1.53},{"series":"S","curve":"up","f":2.25,"v":1.65},{"series":"S","curve":"up","f":2.424,"v":1.46},{"series":"S","curve":"up","f":2.611,"v":1.69},{"series":"S","curve":"up","f":2.813,"v":1.73},{"series":"S","curve":"up","f":3.031,"v":1.65},{"series":"S","curve":"up","f":3.265,"v":1.69},{"series":"S","curve":"up","f":3.607,"v":1.78},{"series":"S","curve":"up","f":3.885,"v":2.01},{"series":"S","curve":"up","f":4.187,"v":2.64},{"series":"S","curve":"up","f":4.443,"v":3.56},{"series":"S","curve":"up","f":4.74,"v":2.92},{"series":"S","curve":"up","f":5.105,"v":1.53},{"series":"S","curve":"up","f":5.5,"v":1.08},{"series":"S","curve":"up","f":5.781,"v":1.0},{"series":"S","curve":"up","f":6.229,"v":1.22},{"series":"S","curve":"up","f":6.61,"v":1.42},{"series":"S","curve":"up","f":7.05,"v":1.26},{"series":"S","curve":"up","f":7.98,"v":0.98},{"series":"S","curve":"up","f":8.815,"v":0.89},{"series":"S","curve":"up","f":9.497,"v":0.8},{"series":"S","curve":"up","f":9.98,"v":0.58},{"series":"S","curve":"up","f":10.75,"v":0.58},{"series":"S","curve":"up","f":12.17,"v":0.575},{"series":"S","curve":"up","f":13.12,"v":0.58},{"series":"S","curve":"up","f":14.48,"v":0.57},{"series":"S","curve":"up","f":15.6,"v":0.49},{"series":"S","curve":"up","f":17.67,"v":0.49},{"series":"S","curve":"up","f":20,"v":0.466},
{"series":"S","curve":"lo","f":0.1,"v":0.574},{"series":"S","curve":"lo","f":0.106,"v":0.58},{"series":"S","curve":"lo","f":0.1127,"v":0.735},{"series":"S","curve":"lo","f":0.12,"v":0.66},{"series":"S","curve":"lo","f":0.1294,"v":0.665},{"series":"S","curve":"lo","f":0.1374,"v":0.81},{"series":"S","curve":"lo","f":0.1466,"v":0.675},{"series":"S","curve":"lo","f":0.158,"v":0.765},{"series":"S","curve":"lo","f":0.1726,"v":0.555},{"series":"S","curve":"lo","f":0.1833,"v":0.735},{"series":"S","curve":"lo","f":0.1974,"v":0.675},{"series":"S","curve":"lo","f":0.2128,"v":0.597},{"series":"S","curve":"lo","f":0.2258,"v":0.56},{"series":"S","curve":"lo","f":0.2408,"v":0.61},{"series":"S","curve":"lo","f":0.2531,"v":0.568},{"series":"S","curve":"lo","f":0.2726,"v":0.597},{"series":"S","curve":"lo","f":0.3012,"v":0.765},{"series":"S","curve":"lo","f":0.3409,"v":0.98},{"series":"S","curve":"lo","f":0.386,"v":1.02},{"series":"S","curve":"lo","f":0.4263,"v":1.04},{"series":"S","curve":"lo","f":0.4479,"v":1.11},{"series":"S","curve":"lo","f":0.5072,"v":1.17},{"series":"S","curve":"lo","f":0.5886,"v":1.35},{"series":"S","curve":"lo","f":0.6664,"v":1.32},{"series":"S","curve":"lo","f":0.7738,"v":1.29},{"series":"S","curve":"lo","f":0.8758,"v":1.15},{"series":"S","curve":"lo","f":0.9915,"v":1.08},{"series":"S","curve":"lo","f":1.095,"v":1.17},{"series":"S","curve":"lo","f":1.2095,"v":1.46},{"series":"S","curve":"lo","f":1.336,"v":1.92},{"series":"S","curve":"lo","f":1.439,"v":2.3},{"series":"S","curve":"lo","f":1.589,"v":2.06},{"series":"S","curve":"lo","f":1.755,"v":1.46},{"series":"S","curve":"lo","f":1.891,"v":1.08},{"series":"S","curve":"lo","f":2.007,"v":0.96},{"series":"S","curve":"lo","f":2.141,"v":1.08},{"series":"S","curve":"lo","f":2.307,"v":1.2},{"series":"S","curve":"lo","f":2.485,"v":1.03},{"series":"S","curve":"lo","f":2.677,"v":1.23},{"series":"S","curve":"lo","f":2.956,"v":1.2},{"series":"S","curve":"lo","f":3.347,"v":1.23},{"series":"S","curve":"lo","f":3.697,"v":1.39},{"series":"S","curve":"lo","f":3.983,"v":1.69},{"series":"S","curve":"lo","f":4.292,"v":2.28},{"series":"S","curve":"lo","f":4.51,"v":2.52},{"series":"S","curve":"lo","f":4.86,"v":1.69},{"series":"S","curve":"lo","f":5.234,"v":1.14},{"series":"S","curve":"lo","f":5.639,"v":0.82},{"series":"S","curve":"lo","f":5.927,"v":0.84},{"series":"S","curve":"lo","f":6.383,"v":1.08},{"series":"S","curve":"lo","f":6.81,"v":1.26},{"series":"S","curve":"lo","f":7.409,"v":0.98},{"series":"S","curve":"lo","f":8.18,"v":0.845},{"series":"S","curve":"lo","f":9.036,"v":0.75},{"series":"S","curve":"lo","f":9.98,"v":0.477},{"series":"S","curve":"lo","f":10.75,"v":0.5},{"series":"S","curve":"lo","f":11.58,"v":0.49},{"series":"S","curve":"lo","f":12.48,"v":0.5},{"series":"S","curve":"lo","f":13.44,"v":0.485},{"series":"S","curve":"lo","f":14.48,"v":0.48},{"series":"S","curve":"lo","f":16.0,"v":0.417},{"series":"S","curve":"lo","f":17.23,"v":0.43},{"series":"S","curve":"lo","f":18.57,"v":0.445},{"series":"S","curve":"lo","f":20,"v":0.43}
]
},
"resolve": {"legend": {"color": "independent", "strokeDash": "independent", "strokeWidth": "independent"}},
"spacing": 45,
"vconcat": [
{
  "spacing": 13,
  "resolve": {"legend": {"color": "independent", "strokeDash": "independent", "strokeWidth": "independent"}},
  "hconcat": [
  {
    "title": {"text": "(a)", "anchor": "start", "frame": "bounds", "fontSize": 26, "dx": -23, "offset": -10},
    "resolve": {"legend": {"color": "independent", "strokeDash": "independent", "strokeWidth": "independent"}},
    "vconcat": [{
      "width": 356, "height": 310,
      "title": {"text": "Station RSS", "offset": -11},
      "data": {"name": "A"},
      "mark": {"type": "line", "clip": true},
      "encoding": {
        "x": {"field": "f", "type": "quantitative", "scale": {"type": "log", "domain": [0.1, 20], "nice": false}, "axis": {"title": "Frequency (Hz)", "labelFontSize": 20, "values": [0.1,0.2,0.3,0.4,0.5,0.6,0.7,0.8,0.9,1,2,3,4,5,6,7,8,9,10,20], "labelExpr": "datum.value == 0.1 ? '10⁻¹' : datum.value == 1 ? '10⁰' : datum.value == 10 ? '10¹' : ''"}},
        "y": {"field": "v", "type": "quantitative", "scale": {"type": "log", "domain": [0.1, 10], "nice": false}, "axis": {"title": "HVSR amplitude", "labelFontSize": 20, "values": [0.1,0.2,0.3,0.4,0.5,0.6,0.7,0.8,0.9,1,2,3,4,5,6,7,8,9,10], "labelExpr": "datum.value == 0.1 ? '10⁻¹' : datum.value == 1 ? '10⁰' : datum.value == 10 ? '10¹' : ''"}},
        "color": {"field": "series", "type": "nominal", "scale": {"domain": ["C","N","U","S"], "range": ["#ff0000","#008000","#0000ff","#0000ff"]}, "legend": null},
        "strokeDash": {"field": "series", "type": "nominal", "scale": {"domain": ["C","N","U","S"], "range": [[5,3],[12,3,2,3],[1,0],[5,2.5]]}, "legend": null},
        "strokeWidth": {"field": "series", "type": "nominal", "scale": {"type": "ordinal", "domain": ["C","N","U","S"], "range": [1.5,2,2.6,1.3]}, "legend": null},
        "detail": {"field": "curve", "type": "nominal"}
      }
    }]
  },
  {
    "title": {"text": "(b)", "anchor": "start", "frame": "bounds", "fontSize": 26, "dx": -19, "offset": -10},
    "resolve": {"legend": {"color": "independent", "strokeDash": "independent", "strokeWidth": "independent"}},
    "vconcat": [{
      "width": 356, "height": 310,
      "title": {"text": "Station ARV", "offset": -11},
      "data": {"name": "B"},
      "mark": {"type": "line", "clip": true},
      "encoding": {
        "x": {"field": "f", "type": "quantitative", "scale": {"type": "log", "domain": [0.1, 20], "nice": false}, "axis": {"title": "Frequency (Hz)", "labelFontSize": 20, "values": [0.1,0.2,0.3,0.4,0.5,0.6,0.7,0.8,0.9,1,2,3,4,5,6,7,8,9,10,20], "labelExpr": "datum.value == 0.1 ? '10⁻¹' : datum.value == 1 ? '10⁰' : datum.value == 10 ? '10¹' : ''"}},
        "y": {"field": "v", "type": "quantitative", "scale": {"type": "log", "domain": [0.1, 10], "nice": false}, "axis": {"title": "HVSR amplitude", "labelFontSize": 20, "values": [0.1,0.2,0.3,0.4,0.5,0.6,0.7,0.8,0.9,1,2,3,4,5,6,7,8,9,10], "labelExpr": "datum.value == 0.1 ? '10⁻¹' : datum.value == 1 ? '10⁰' : datum.value == 10 ? '10¹' : ''"}},
        "color": {"field": "series", "type": "nominal", "scale": {"domain": ["C","N","U","S"], "range": ["#ff0000","#008000","#0000ff","#0000ff"]}, "legend": null},
        "strokeDash": {"field": "series", "type": "nominal", "scale": {"domain": ["C","N","U","S"], "range": [[5,3],[12,3,2,3],[1,0],[5,2.5]]}, "legend": null},
        "strokeWidth": {"field": "series", "type": "nominal", "scale": {"type": "ordinal", "domain": ["C","N","U","S"], "range": [1.5,2,2.6,1.3]}, "legend": null},
        "detail": {"field": "curve", "type": "nominal"}
      }
    }]
  }
  ]
},
{
  "spacing": 0,
  "resolve": {"legend": {"color": "independent", "strokeDash": "independent", "strokeWidth": "independent"}},
  "hconcat": [
  {
    "width": 108, "height": 10,
    "view": {"stroke": null},
    "data": {"values": []},
    "mark": {"type": "point", "opacity": 0},
    "encoding": {}
  },
  {
    "title": {"text": "(c)", "anchor": "start", "frame": "bounds", "fontSize": 26, "dx": -31, "offset": -14},
    "resolve": {"legend": {"color": "independent", "strokeDash": "independent", "strokeWidth": "independent"}},
    "vconcat": [{
      "width": 356, "height": 310,
      "title": {"text": "Station CTC", "offset": -11},
      "data": {"name": "C"},
      "mark": {"type": "line", "clip": true},
      "encoding": {
        "x": {"field": "f", "type": "quantitative", "scale": {"type": "log", "domain": [0.1, 20], "nice": false}, "axis": {"title": "Frequency (Hz)", "labelFontSize": 20, "values": [0.1,0.2,0.3,0.4,0.5,0.6,0.7,0.8,0.9,1,2,3,4,5,6,7,8,9,10,20], "labelExpr": "datum.value == 0.1 ? '10⁻¹' : datum.value == 1 ? '10⁰' : datum.value == 10 ? '10¹' : ''"}},
        "y": {"field": "v", "type": "quantitative", "scale": {"type": "log", "domain": [0.1, 10], "nice": false}, "axis": {"title": "HVSR amplitude", "labelFontSize": 20, "values": [0.1,0.2,0.3,0.4,0.5,0.6,0.7,0.8,0.9,1,2,3,4,5,6,7,8,9,10], "labelExpr": "datum.value == 0.1 ? '10⁻¹' : datum.value == 1 ? '10⁰' : datum.value == 10 ? '10¹' : ''"}},
        "color": {"field": "series", "type": "nominal", "scale": {"domain": ["C","N","U","S"], "range": ["#ff0000","#008000","#0000ff","#0000ff"]}, "legend": {"labelExpr": "datum.label == 'C' ? 'Normalization constant' : datum.label == 'N' ? 'Normalized HVSR' : datum.label == 'U' ? 'Unnormalized HVSR' : 'Unnormalized HVSR ± σ'"}},
        "strokeDash": {"field": "series", "type": "nominal", "scale": {"domain": ["C","N","U","S"], "range": [[5,3],[12,3,2,3],[1,0],[5,2.5]]}, "legend": {"labelExpr": "datum.label == 'C' ? 'Normalization constant' : datum.label == 'N' ? 'Normalized HVSR' : datum.label == 'U' ? 'Unnormalized HVSR' : 'Unnormalized HVSR ± σ'"}},
        "strokeWidth": {"field": "series", "type": "nominal", "scale": {"type": "ordinal", "domain": ["C","N","U","S"], "range": [1.5,2,2.6,1.3]}, "legend": {"labelExpr": "datum.label == 'C' ? 'Normalization constant' : datum.label == 'N' ? 'Normalized HVSR' : datum.label == 'U' ? 'Unnormalized HVSR' : 'Unnormalized HVSR ± σ'"}},
        "detail": {"field": "curve", "type": "nominal"}
      }
    }]
  }
  ]
}
]
}
